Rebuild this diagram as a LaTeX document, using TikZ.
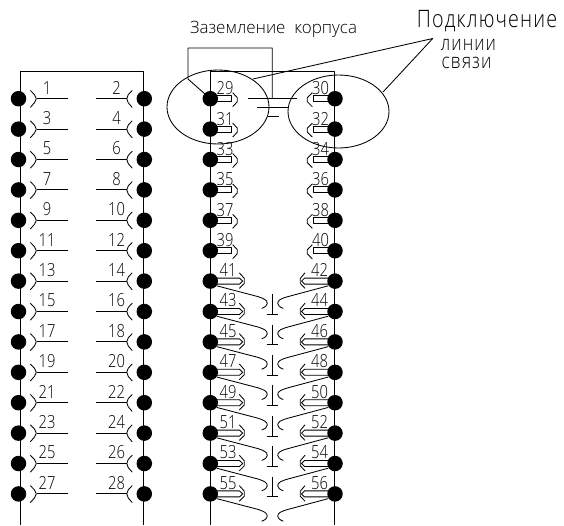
\documentclass[tikz,border=0pt]{standalone}
\usepackage{fontspec}
\setmainfont{Open Sans}[UprightFont=* Light,FakeStretch=0.82]
\newfontfamily\plainfont{Open Sans}[UprightFont=* Light]
\newfontfamily\widefont{Open Sans}[UprightFont=* Light,FakeStretch=0.82,LetterSpace=5]
\tikzset{
  wire/.style={line width=0.85pt,line join=round},
  dotn/.style={circle,fill=black,inner sep=0pt,minimum size=15.5pt},
  num/.style={inner sep=0pt,font=\fontsize{18}{18}\selectfont},
  captext/.style={inner sep=0pt}
}
\begin{document}
\begin{tikzpicture}[x=1pt,y=-1pt]
\useasboundingbox (0,0) rectangle (564,525);
% rails
\coordinate (la) at (20,525); \coordinate (lb) at (20,71);
\coordinate (lc) at (143.7,71); \coordinate (ld) at (143.7,525);
\coordinate (ma) at (210.3,525); \coordinate (mb) at (210.3,71);
\coordinate (mc) at (334.5,71); \coordinate (md) at (334.5,525);
\draw[wire] (la)--(lb)--(lc)--(ld);
\draw[wire] (ma)--(mb)--(mc)--(md);
% left block
\foreach \k [evaluate=\k as \n using int(2*\k+1), evaluate=\k as \m using int(2*\k+2)] in {0,...,13}{
  \begin{scope}[yshift={-(98.7+30.4*\k)*1pt}]
    \node[dotn] (d\n) at (18.5,0) {};
    \node[dotn] (d\m) at (144.3,0) {};
    \node[num] (t\n) at (47,-11) {\n};
    \node[num] (t\m) at (116.5,-11) {\m};
    \coordinate (a\n) at (37,0); \coordinate (b\n) at (68,0);
    \coordinate (a\m) at (127,0); \coordinate (b\m) at (96,0);
    \draw[wire] (b\n)--(a\n);
    \draw[wire] (b\m)--(a\m);
    \draw[wire] (30.3,-8.3)--(34.5,-4)--(36.3,0)--(34.5,4)--(30.3,8.7);
    \draw[wire] (132.2,-8.3)--(128.2,-4)--(126.8,0)--(128.2,4)--(132.2,8.7);
  \end{scope}
}
% middle block
\foreach \k [evaluate=\k as \n using int(2*\k+29), evaluate=\k as \m using int(2*\k+30)] in {0,...,13}{
  \begin{scope}[yshift={-(98.7+30.4*\k)*1pt}]
    \node[dotn] (d\n) at (210.3,0) {};
    \node[dotn] (d\m) at (335,0) {};
    \ifnum\k<6
      \node[num] (t\n) at (225,-10.5) {\n};
      \node[num] (t\m) at (320.5,-10.5) {\m};
      \draw[wire] (d\n.center) ++(0,-3) -- (231.7,-3) -- (231.7,3) -- (210.3,3);
      \draw[wire] (d\m.center) ++(0,-3) -- (313.3,-3) -- (313.3,3) -- (335,3);
      \draw[wire] (232.7,-6)--(237.3,-1)--(237.3,3)--(232.7,8);
      \draw[wire] (312.3,-6)--(307.3,-1)--(307.3,3)--(312.3,8);
    \else
      \node[num] (t\n) at (228,-11) {\n};
      \node[num] (t\m) at (319.5,-11) {\m};
      \draw[wire] (d\n.center) ++(0,-3) -- (239.5,-3) -- (242.7,0) -- (239.5,3) -- (210.3,3);
      \draw[wire] (d\m.center) ++(0,-3) -- (304.5,-3) -- (301.5,0) -- (304.5,3) -- (335,3);
      \draw[wire] (239.3,-8.3)--(244.3,-2.7)--(244.3,2.3)--(239.3,7.3);
      \draw[wire] (305,-8.3)--(300.3,-2.7)--(300.3,2.3)--(305,7.3);
      \draw[wire] (216.7,4.7)--(258,15.5) .. controls (264,17.5) and (267.3,19) .. (267.3,22.3) .. controls (267.3,24.5) and (265,26) .. (261.7,27.3);
      \draw[wire] (328.3,4.7)--(288,15.5) .. controls (281,17.5) and (277.7,19) .. (277.7,22.3) .. controls (277.7,24.5) and (280,26) .. (283.3,27.3);
      \ifnum\k<13
        \draw[wire] (272.3,13)--(272.3,33.3);
        \draw[wire] (266.7,33.3)--(277.7,33.3);
      \fi
    \fi
  \end{scope}
}
% ellipses
\draw[wire] (218,107) ellipse [x radius=51,y radius=37];
\draw[wire] (338.5,111.5) ellipse [x radius=50.5,y radius=36.5];
% body ground
\coordinate (g1) at (188,79); \coordinate (g2) at (188,48); \coordinate (g3) at (272.3,48); \coordinate (g4) at (272.3,98.3);
\draw[wire] (d29.center)--(g1)--(g2)--(g3)--(g4);
\coordinate (p1) at (248,98.3); \coordinate (p2) at (297,98.3);
\coordinate (p3) at (257,107); \coordinate (p4) at (288,107);
\coordinate (p5) at (268,116); \coordinate (p6) at (279,116);
\draw[wire] (p1)--(p2); \draw[wire] (p3)--(p4); \draw[wire] (p5)--(p6);
% leaders
\coordinate (q) at (432.7,38.5); \coordinate (q1) at (253,79); \coordinate (q2) at (383,92);
\draw[wire] (q1)--(q)--(q2);
% captions
\node[captext,font=\plainfont\fontsize{17}{17}\selectfont] (c1) at (273.5,29) {Заземление\ \ корпуса};
\node[captext,font=\widefont\fontsize{24}{24}\selectfont] (c2) at (487,21.5) {Подключение};
\node[captext,font=\widefont\fontsize{21}{21}\selectfont] (c3) at (468.5,44.5) {линии};
\node[captext,font=\widefont\fontsize{21}{21}\selectfont] (c4) at (466.5,63) {связи};
\end{tikzpicture}
\end{document}
